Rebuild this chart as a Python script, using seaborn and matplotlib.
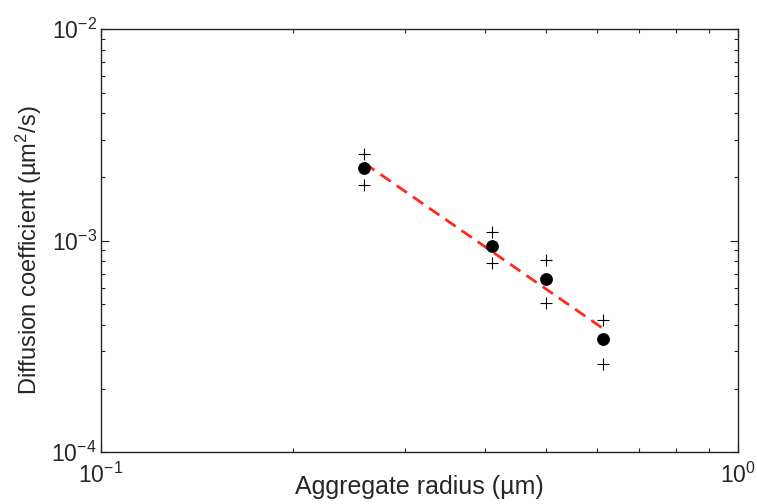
import matplotlib
matplotlib.use("Agg")
import matplotlib.pyplot as plt
import seaborn as sns
import numpy as np
import pandas as pd
from matplotlib.ticker import LogLocator, LogFormatterSciNotation, NullFormatter

# Data
radius = [0.259, 0.4106, 0.4995, 0.6146]
D_mean = [2.22e-3, 9.45e-4, 6.60e-4, 3.42e-4]
D_upper = [2.57e-3, 1.10e-3, 8.11e-4, 4.22e-4]
D_lower = [1.84e-3, 7.88e-4, 5.06e-4, 2.61e-4]
fit_radius = [0.259, 0.6146]
fit_D = [2.33e-3, 3.84e-4]
x_limits = [0.1, 1.0]
y_limits = [1e-4, 1e-2]

sns.set_style("white")
plt.rcParams['font.family'] = ['Liberation Sans', 'DejaVu Sans']
plt.rcParams['mathtext.fontset'] = 'custom'
plt.rcParams['mathtext.rm'] = 'Liberation Sans'
plt.rcParams['mathtext.it'] = 'Liberation Sans:italic'
plt.rcParams['mathtext.bf'] = 'Liberation Sans:bold'

fig = plt.figure(figsize=(7.57, 5.04), dpi=100)
ax = fig.add_axes([0.1334, 0.1026, 0.8415, 0.8393])

df_mean = pd.DataFrame({"r": radius, "D": D_mean})
df_err = pd.DataFrame({"r": radius + radius, "D": D_upper + D_lower})
df_fit = pd.DataFrame({"r": fit_radius, "D": fit_D})

sns.scatterplot(data=df_err, x="r", y="D", ax=ax, marker="+", s=70,
                color="black", linewidth=0.8, zorder=3)
sns.lineplot(data=df_fit, x="r", y="D", ax=ax, color="#ff2a1a",
             linewidth=2.0, zorder=2)
ax.lines[-1].set_dashes((4.5, 2.6))
sns.scatterplot(data=df_mean, x="r", y="D", ax=ax, marker="o", s=75,
                color="black", edgecolor="black", linewidth=0.5, zorder=4)

ax.set_xscale("log")
ax.set_yscale("log")
ax.set_xlim(*x_limits)
ax.set_ylim(*y_limits)

ax.xaxis.set_major_locator(LogLocator(base=10, numticks=10))
ax.yaxis.set_major_locator(LogLocator(base=10, numticks=10))
ax.xaxis.set_minor_locator(LogLocator(base=10, subs=np.arange(2, 10), numticks=20))
ax.yaxis.set_minor_locator(LogLocator(base=10, subs=np.arange(2, 10), numticks=20))
ax.xaxis.set_major_formatter(LogFormatterSciNotation())
ax.yaxis.set_major_formatter(LogFormatterSciNotation())
ax.xaxis.set_minor_formatter(NullFormatter())
ax.yaxis.set_minor_formatter(NullFormatter())

for sp in ax.spines.values():
    sp.set_visible(True)
    sp.set_color("#222222")
    sp.set_linewidth(1.0)

ax.tick_params(which="both", direction="in", top=True, right=True,
               bottom=True, left=True, color="#222222", width=0.8)
ax.tick_params(which="major", length=5.5)
ax.tick_params(which="minor", length=3)
ax.tick_params(axis="y", which="major", labelsize=16.5, pad=3)
ax.tick_params(axis="x", which="major", labelsize=16.5, pad=7.5)

ax.set_xlabel("Aggregate radius (µm)", fontsize=18)
ax.set_ylabel("Diffusion coefficient (µm$^2$/s)", fontsize=17)
ax.xaxis.label.set_va("baseline")
ax.yaxis.label.set_va("baseline")
ax.xaxis.set_label_coords(0.5, -0.0993)
ax.yaxis.set_label_coords(-0.100, 0.477)

fig.savefig("out.png", dpi=100)
